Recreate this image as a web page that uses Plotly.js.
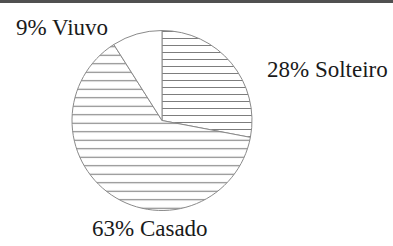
<!DOCTYPE html>
<html>
<head>
<meta charset="utf-8">
<script src="https://cdn.plot.ly/plotly-3.0.1.min.js"></script>
<style>html,body{margin:0;padding:0;background:#fff;}#chart{width:393px;height:246px;}</style>
</head>
<body>
<div id="chart"></div>
<script>
const categories = ["Solteiro", "Casado", "Viuvo"];
const values = [28, 63, 9];
const labelTexts = ["28% Solteiro", "63% Casado", "9% Viuvo"];

const labelPos = [
  {x: 265/393, y: 1 - 69/246, xanchor: 'left'},
  {x: 150/393, y: 1 - 228/246, xanchor: 'center'},
  {x: 14/393, y: 1 - 28/246, xanchor: 'left'}
];

const trace = {
  type: 'pie',
  labels: categories,
  values: values,
  sort: false,
  direction: 'clockwise',
  rotation: 0,
  textinfo: 'none',
  hoverinfo: 'none',
  showlegend: false,
  domain: {x: [72/393, 252/393], y: [1 - 211/246, 1 - 30/246]},
  marker: {
    colors: ['#ffffff', '#ffffff', '#ffffff'],
    line: {color: '#8a8a8a', width: 1},
    pattern: {
      shape: ['-', '-', ''],
      fgcolor: ['#707070', '#808080', '#ffffff'],
      bgcolor: ['#ffffff', '#ffffff', '#ffffff'],
      size: [7, 8.5, 8],
      solidity: 0.13
    }
  }
};

const annotations = labelTexts.map((t, i) => ({
  text: t,
  xref: 'paper', yref: 'paper',
  x: labelPos[i].x, y: labelPos[i].y,
  xanchor: labelPos[i].xanchor, yanchor: 'middle',
  showarrow: false,
  font: {family: 'Liberation Serif, Times New Roman, serif', size: 23, color: '#1a1a1a'}
}));

const layout = {
  width: 393, height: 246,
  margin: {l: 0, r: 0, t: 0, b: 0},
  paper_bgcolor: '#ffffff',
  plot_bgcolor: '#ffffff',
  annotations: annotations,
  shapes: [{
    type: 'rect', xref: 'paper', yref: 'paper',
    x0: 0, x1: 1, y0: 1 - 3/246, y1: 1,
    fillcolor: '#505050', line: {width: 0}
  }]
};

Plotly.newPlot('chart', [trace], layout, {displayModeBar: false, staticPlot: true});
</script>
</body>
</html>
